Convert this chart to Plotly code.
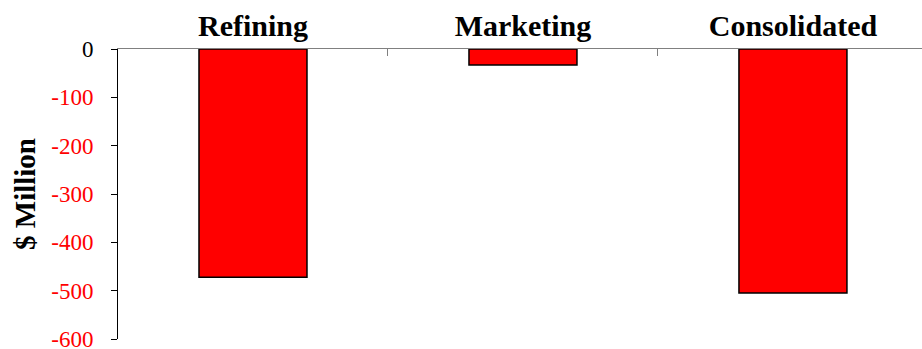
import plotly.graph_objects as go

categories = ["Refining", "Marketing", "Consolidated"]
values = [-472, -33, -505]
tick_vals = [0, -100, -200, -300, -400, -500, -600]
tick_text = ["0", "-100", "-200", "-300", "-400", "-500", "-600"]
tick_colors = ["black", "red", "red", "red", "red", "red", "red"]

fig = go.Figure()
fig.add_trace(go.Bar(
    x=categories, y=values, width=0.4,
    marker=dict(color="#ff0000", line=dict(color="black", width=1.5)),
))

fig.update_layout(
    width=922, height=349,
    margin=dict(l=118, r=0, t=49, b=10),
    paper_bgcolor="white", plot_bgcolor="white",
    showlegend=False,
    font=dict(family="Liberation Serif", color="black"),
)
fig.update_xaxes(
    side="top", type="category", range=[-0.5, 2.478],
    showline=True, linecolor="#808080", linewidth=1,
    ticks="inside", tickson="boundaries", ticklen=7, tickcolor="#808080",
    tickfont=dict(family="Liberation Serif", size=30, color="black"),
    tickprefix="<b>", ticksuffix="</b>", showgrid=False, zeroline=False,
    ticklabelstandoff=0, automargin=False,
)
fig.update_yaxes(
    range=[-600, 0], tickvals=tick_vals,
    ticktext=[f'<span style="color:{c}">{t}</span>' for t, c in zip(tick_text, tick_colors)],
    showline=True, linecolor="black", linewidth=1,
    ticks="outside", ticklen=6, tickcolor="black",
    tickfont=dict(family="Liberation Serif", size=23),
    ticklabelstandoff=13, ticklabeloverflow="allow",
    showgrid=False, zeroline=False, automargin="left",
    title=dict(text="<b>$ Million</b>", font=dict(family="Liberation Serif", size=29), standoff=7),
)

fig.write_html("out.html")
